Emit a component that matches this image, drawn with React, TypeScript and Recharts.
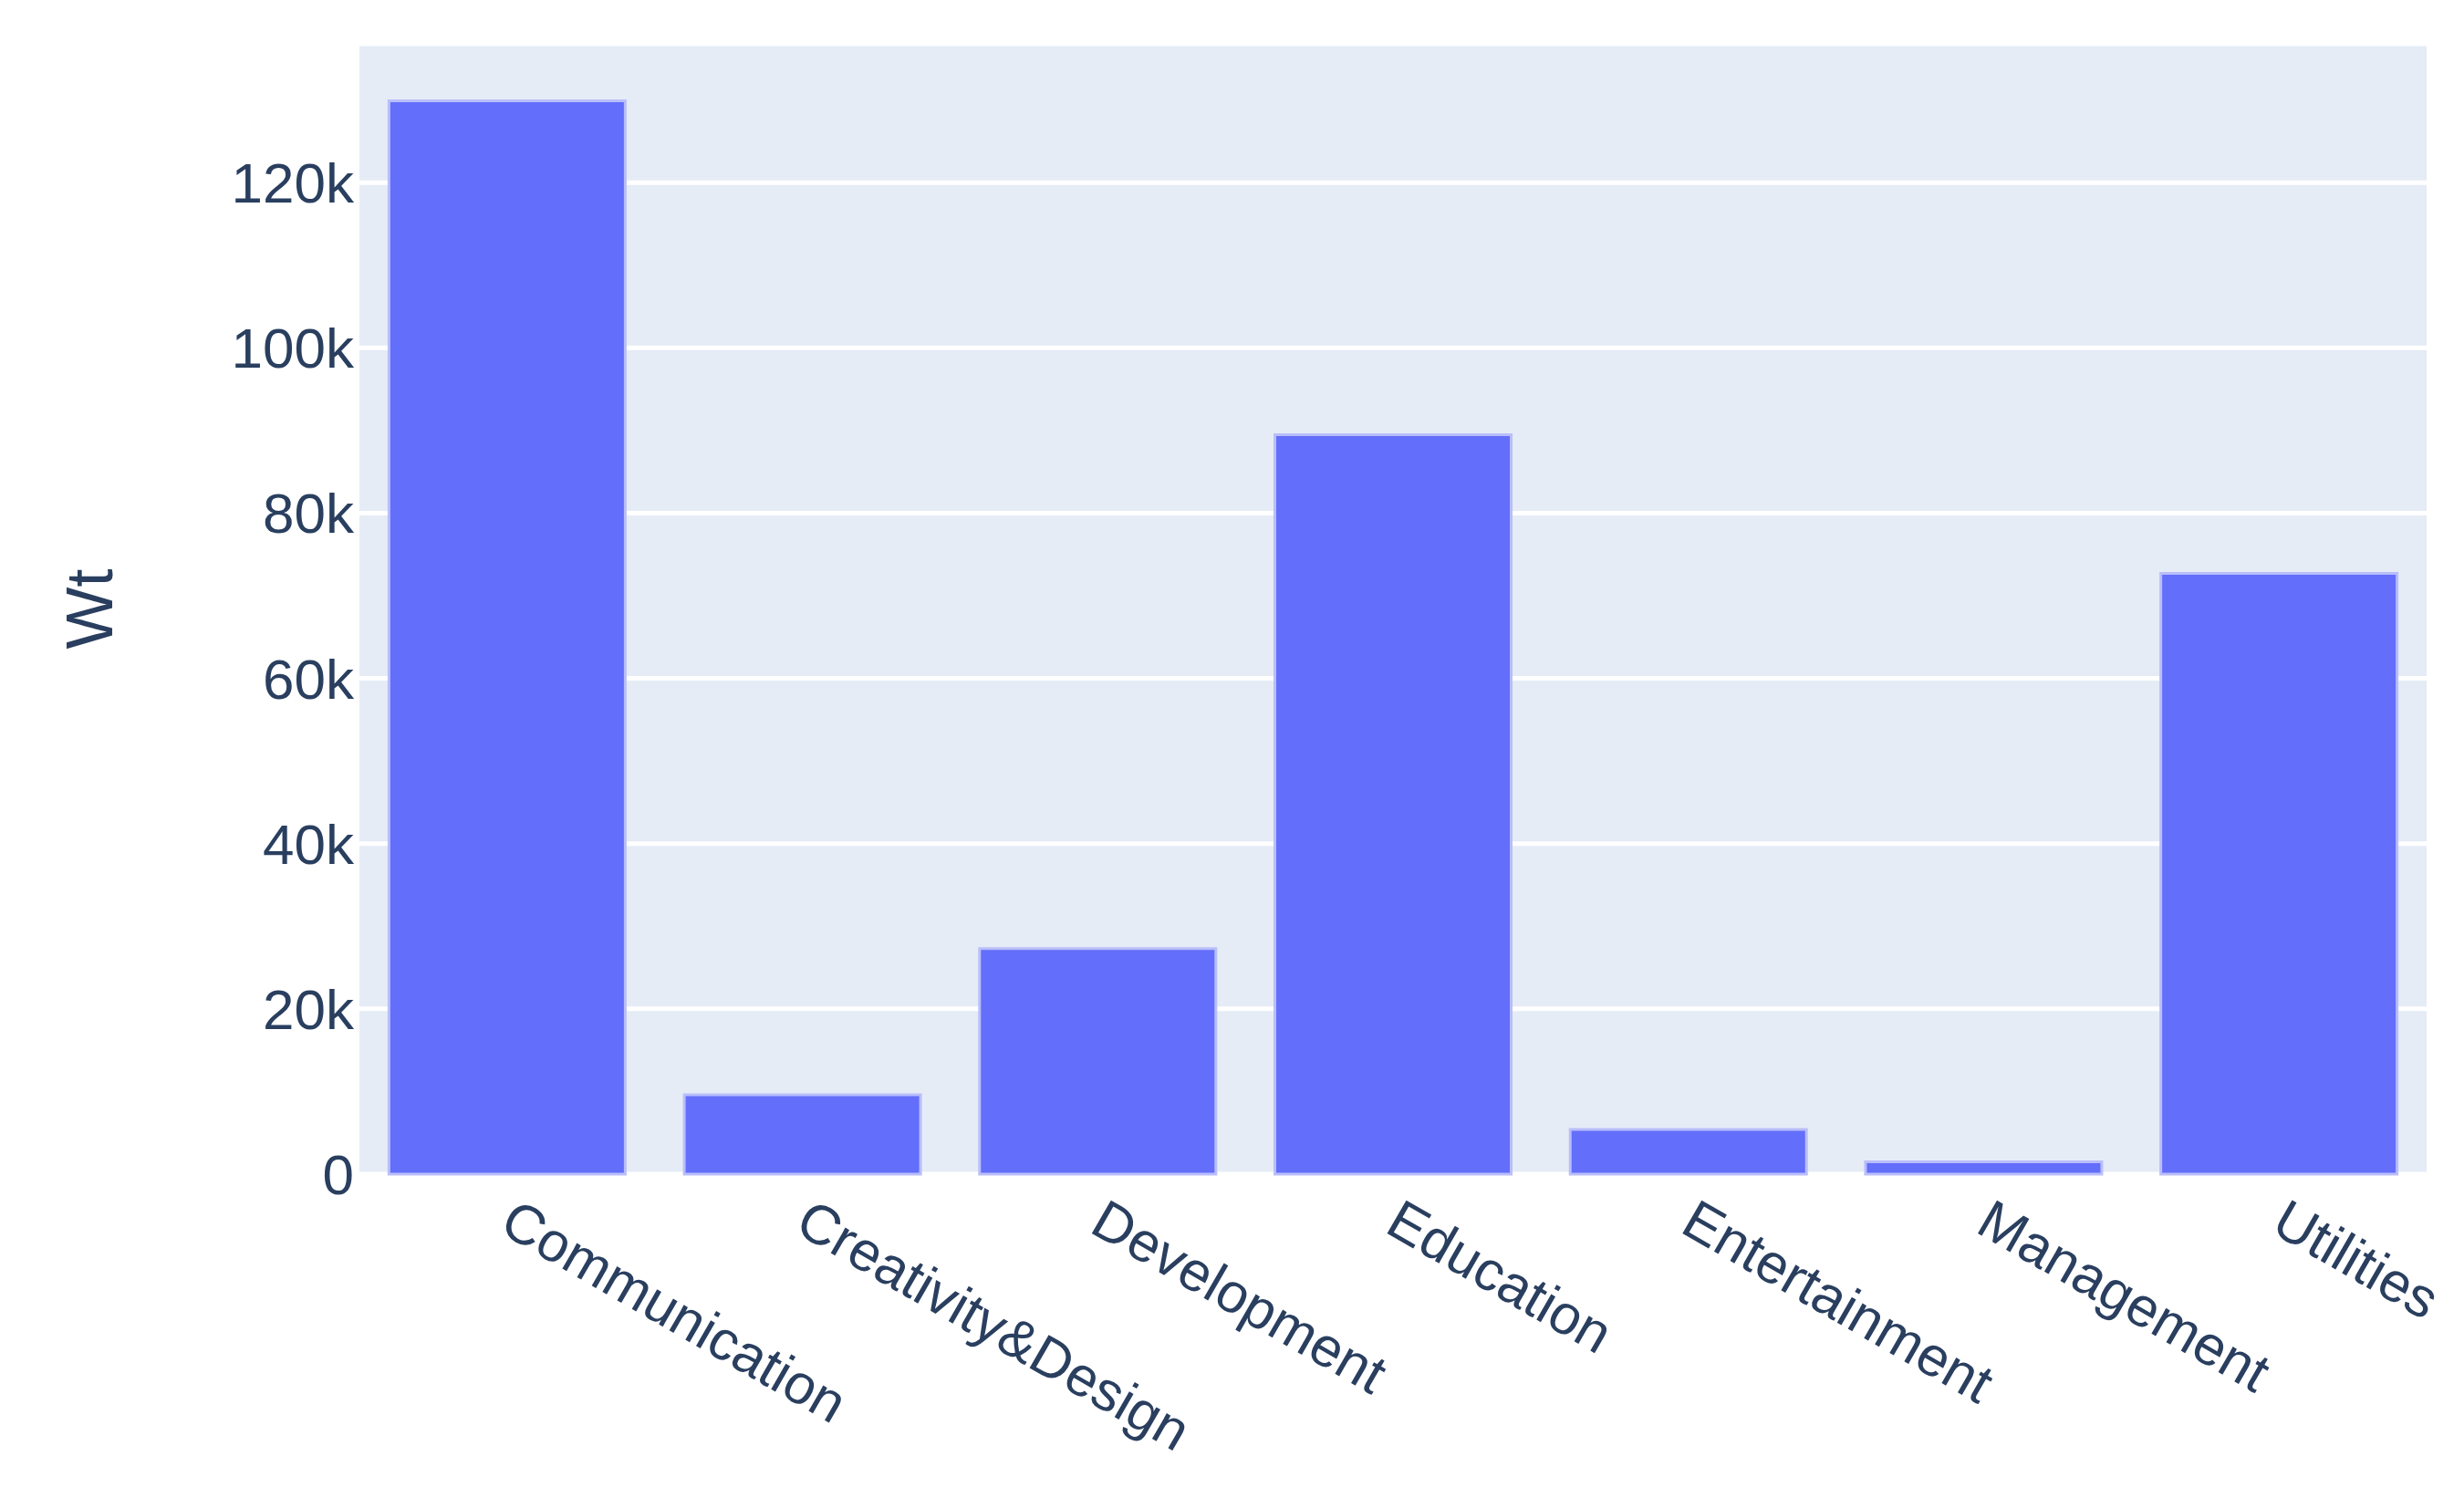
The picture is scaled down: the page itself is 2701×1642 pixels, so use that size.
import React from 'react';
import { BarChart, Bar, XAxis, YAxis, CartesianGrid } from 'recharts';

// categorías y valores
const categorias = [
  'Communication',
  'Creativity&Design',
  'Development',
  'Education',
  'Entertainment',
  'Management',
  'Utilities',
];
const valoresWt = [129900, 9600, 27300, 89500, 5400, 1500, 72700];
const ticksY = [0, 20000, 40000, 60000, 80000, 100000, 120000];

const datos = categorias.map((nombre, i) => ({ nombre, Wt: valoresWt[i] }));

const FUENTE = '"Liberation Sans", Arial, sans-serif';
const COLOR_TEXTO = '#2a3f5f';

const formatoK = (v: number) => (v === 0 ? '0' : `${v / 1000}k`);

// etiqueta inclinada como en plotly (30 grados)
const TickInclinado = (props: any) => {
  const { x, y, payload } = props;
  return (
    <g transform={`translate(${x},${y})`}>
      <text
        transform="rotate(30)"
        textAnchor="start"
        dy="0.35em"
        fill={COLOR_TEXTO}
        fontSize={61}
        fontFamily={FUENTE}
      >
        {payload.value}
      </text>
    </g>
  );
};

export default function App() {
  return (
    <div style={{ position: 'absolute', left: 0, top: 0, width: 2701, height: 1642, background: '#fff' }}>
      <BarChart
        width={2701}
        height={1642}
        data={datos}
        margin={{ top: 48, right: 41, bottom: 0, left: 0 }}
        barCategoryGap="10%"
      >
        <CartesianGrid vertical={false} fill="#E5ECF6" stroke="#ffffff" strokeWidth={5} />
        <XAxis
          dataKey="nombre"
          axisLine={false}
          tickLine={false}
          tickSize={0}
          tickMargin={44}
          interval={0}
          height={355}
          tick={<TickInclinado />}
        />
        <YAxis
          width={394}
          domain={[0, 136800]}
          ticks={ticksY}
          tickFormatter={formatoK}
          axisLine={false}
          tickLine={false}
          tickSize={0}
          tickMargin={6}
          tick={{ fill: COLOR_TEXTO, fontSize: 62, fontFamily: FUENTE }}
          label={{
            position: 'center',
            content: (p: any) => {
              const vb = p.viewBox || { x: 0, y: 48, width: 394, height: 1239 };
              const cx = vb.x + 98;
              const cy = vb.y + vb.height / 2;
              return (
                <text
                  x={cx}
                  y={cy}
                  transform={`rotate(-90, ${cx}, ${cy})`}
                  textAnchor="middle"
                  dy="0.35em"
                  fill={COLOR_TEXTO}
                  fontSize={72}
                  fontFamily={FUENTE}
                >
                  Wt
                </text>
              );
            },
          }}
        />
        <Bar
          dataKey="Wt"
          fill="#636efa"
          stroke="#b9befa"
          strokeWidth={3}
          isAnimationActive={false}
        />
      </BarChart>
    </div>
  );
}
